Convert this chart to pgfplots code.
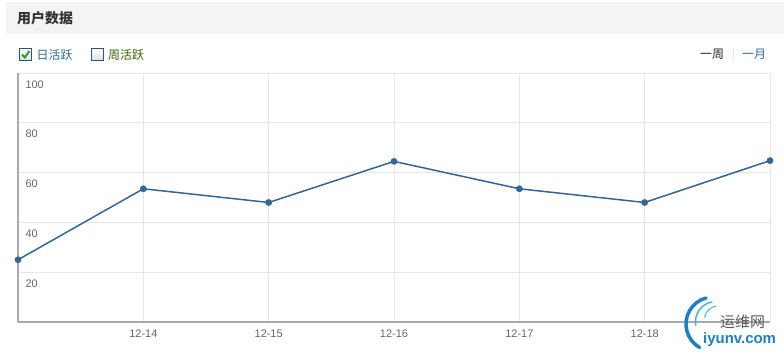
\documentclass[border=0pt]{standalone}
\usepackage{pgfplots}
\pgfplotsset{compat=1.18}
\usepackage{fontspec}
\setmainfont{Liberation Sans}
\newfontfamily\cjk{Noto Sans CJK SC}
\definecolor{hdrbg}{HTML}{F4F4F4}
\definecolor{titlec}{HTML}{333333}
\definecolor{linec}{HTML}{336699}
\definecolor{tickc}{HTML}{666666}
\definecolor{gridc}{HTML}{E6E6E6}
\definecolor{axisc}{HTML}{AAAAAA}
\definecolor{bluet}{HTML}{2D6A9F}
\definecolor{greent}{HTML}{336600}
\definecolor{boxc}{HTML}{2A5580}
\definecolor{checkc}{HTML}{2E9E2E}
\definecolor{wmblue}{HTML}{1E7FC8}
\definecolor{wmlight}{HTML}{3FB6E8}
\begin{document}
\begin{tikzpicture}[x=1bp,y=1bp]
\useasboundingbox[fill=white] (0,0) rectangle (784,356);
% header band
\fill[hdrbg] (6,356-2) rectangle (784,356-33.5);
\node[anchor=west, inner sep=0, text=titlec, font=\cjk\bfseries\fontsize{14}{16}\selectfont] at (17,356-18.5) {用户数据};
% legend checkboxes
\draw[boxc, line width=1bp, top color=white, bottom color=gray!25] (19.5,356-48.5) rectangle (31.5,356-60.5);
\draw[checkc, line width=2bp] (22,356-54.5) -- (24.8,356-57.5) -- (29.5,356-51);
\node[anchor=west, inner sep=0, text=bluet, font=\cjk\fontsize{12}{14}\selectfont] at (36.5,356-55) {日活跃};
\draw[boxc, line width=1bp, top color=white, bottom color=gray!25] (91.5,356-48.5) rectangle (103.5,356-60.5);
\node[anchor=west, inner sep=0, text=greent, font=\cjk\fontsize{12}{14}\selectfont] at (108,356-55) {周活跃};
% period switch
\node[anchor=west, inner sep=0, text=black!85, font=\cjk\fontsize{12}{14}\selectfont] at (700,356-54.5) {一周};
\draw[gray!40, dash pattern=on 1bp off 1bp] (733,356-49) -- (733,356-60);
\node[anchor=west, inner sep=0, text=bluet, font=\cjk\fontsize{12}{14}\selectfont] at (742,356-54.5) {一月};
\begin{axis}[
  at={(18bp,34bp)}, anchor=south west,
  scale only axis, width=752bp, height=249bp,
  xmin=0, xmax=6, ymin=0, ymax=100,
  clip=false,
  axis x line*=bottom, axis y line*=left,
  axis line style={draw=axisc, line width=1.6bp, -},
  xmajorgrids, ymajorgrids,
  major grid style={draw=gridc, line width=0.8bp},
  major tick length=0pt,
  xtick={0,1,2,3,4,5,6},
  xticklabels={,12-14,12-15,12-16,12-17,12-18,},
  ytick={20,40,60,80,100},
  yticklabels={20,40,60,80,100},
  tick label style={font=\fontsize{11}{13}\selectfont, text=tickc},
  xticklabel style={anchor=north, yshift=-4bp},
  yticklabel style={anchor=north west, xshift=4bp, yshift=-4bp},
]
\addplot[color=linec, line width=1.5bp, mark=*, mark size=2.6bp, mark options={fill=linec, draw=linec}]
  coordinates {(0,25) (1,53.5) (2,48) (3,64.5) (4,53.5) (5,48) (6,64.8)};
\end{axis}
% watermark
\draw[color=wmblue, line width=3.5bp, line cap=round] (706,356-298) arc[start angle=105, end angle=240, radius=27];
\draw[color=wmlight, line width=1.5bp, line cap=round] (712,356-302) arc[start angle=100, end angle=190, radius=20];
\draw[color=wmlight, line width=1bp, line cap=round] (716,356-306) arc[start angle=100, end angle=170, radius=14];
\node[anchor=west, inner sep=0, text=black!65, font=\cjk\fontsize{15}{17}\selectfont] at (720,356-322) {运维网};
\node[anchor=west, inner sep=0, text=wmblue, font=\bfseries\fontsize{15}{17}\selectfont] at (703,356-340) {iyunv.com};
\end{tikzpicture}
\end{document}
